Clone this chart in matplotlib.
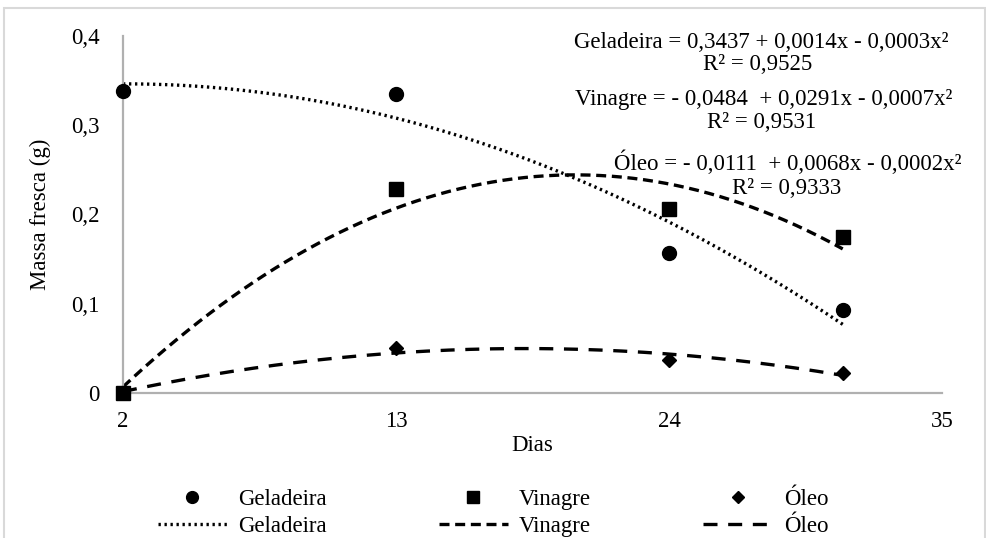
import matplotlib
matplotlib.use("Agg")
import matplotlib.pyplot as plt
from matplotlib.lines import Line2D
from matplotlib.patches import Rectangle
import numpy as np

plt.rcParams['font.family'] = ['Liberation Serif', 'DejaVu Serif']

# data
dias = [2, 13, 24, 31]
geladeira = [0.338, 0.335, 0.157, 0.093]
vinagre = [0.0, 0.229, 0.206, 0.1745]
oleo = [0.0, 0.050, 0.037, 0.0228]

x_ticks = [2, 13, 24, 35]
y_ticks = [0, 0.1, 0.2, 0.3, 0.4]
y_tick_labels = ['0', '0,1', '0,2', '0,3', '0,4']

eq_lines = [
    ('Geladeira = 0,3437 + 0,0014x - 0,0003x²', 761, 42),
    ('R² = 0,9525', 758, 65),
    ('Vinagre = - 0,0484  + 0,0291x - 0,0007x²', 764, 100),
    ('R² = 0,9531', 762, 123),
    ('Óleo = - 0,0111  + 0,0068x - 0,0002x²', 788, 163),
    ('R² = 0,9333', 787, 188),
]

W, H = 986, 538
fs = 16.5
fig = plt.figure(figsize=(W / 100, H / 100), dpi=100)
ax = fig.add_axes([123 / W, 1 - 393 / H, (942 - 123) / W, (393 - 36) / H])

# light frame around the chart area
fig.patches.append(Rectangle((4 / W, -0.05), (985 - 4) / W, 1 - 8 / H + 0.05,
                             transform=fig.transFigure, fill=False,
                             edgecolor='#d9d9d9', linewidth=1.5))

series = [
    ('Geladeira', geladeira, 'o', 10, (0, (0.7, 1.1)), 2.4),
    ('Vinagre', vinagre, 's', 10.5, (0, (3.0, 1.7)), 2.4),
    ('Óleo', oleo, 'D', 7.5, (0, (4.2, 3.2)), 2.4),
]

xx = np.linspace(min(dias), max(dias), 200)
handles = []
labels = []
for name, vals, mk, ms, ls, lw in series:
    coef = np.polyfit(dias, vals, 2)
    ax.plot(xx, np.polyval(coef, xx), color='black', linestyle=ls, linewidth=lw,
            clip_on=False, zorder=2)
    ax.plot(dias, vals, linestyle='none', marker=mk, markersize=ms, color='black',
            clip_on=False, zorder=3)
    handles.append(Line2D([], [], linestyle='none', marker=mk, markersize=ms * 0.85, color='black'))
    labels.append(name)
    handles.append(Line2D([], [], color='black', linestyle=ls, linewidth=lw))
    labels.append(name)

ax.set_xlim(2, 35)
ax.set_ylim(0, 0.4)
ax.set_xticks(x_ticks)
ax.set_xticklabels([str(t) for t in x_ticks], fontsize=fs)
ax.set_yticks(y_ticks)
ax.set_yticklabels(y_tick_labels, fontsize=fs)
ax.tick_params(axis='both', length=0)
ax.tick_params(axis='y', pad=17)
ax.tick_params(axis='x', pad=13)

for s in ['top', 'right']:
    ax.spines[s].set_visible(False)
for s in ['left', 'bottom']:
    ax.spines[s].set_color('#b0b0b0')
    ax.spines[s].set_linewidth(1.6)

ax.set_xlabel('Dias', fontsize=fs, labelpad=2)
ax.set_ylabel('Massa fresca (g)', fontsize=fs, labelpad=14)

for txt, px, py in eq_lines:
    fig.text(px / W, 1 - py / H, txt, fontsize=fs, ha='center', va='center')

fig.legend(handles, labels, ncol=3, loc='center', bbox_to_anchor=(493 / W, 1 - 513 / H),
           frameon=False, fontsize=fs, handlelength=3.0, handletextpad=0.5,
           columnspacing=4.9, labelspacing=0.3, borderpad=0, numpoints=1)

fig.savefig('out.png', dpi=100)
